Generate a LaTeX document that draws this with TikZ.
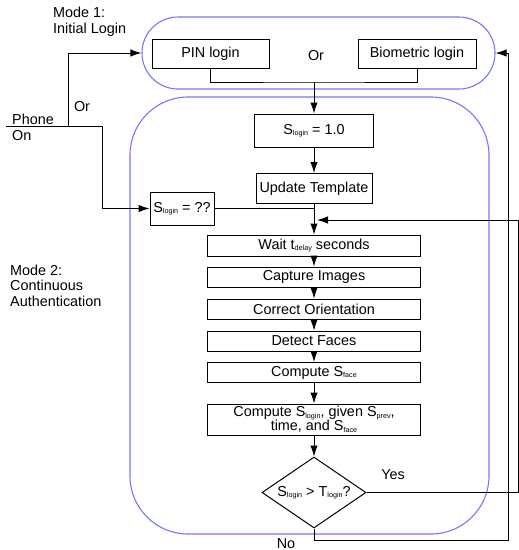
\documentclass[tikz,border=0pt]{standalone}
\usepackage{fontspec}
\setmainfont{Liberation Sans}
\usepackage{xcolor}
\usetikzlibrary{shapes,arrows.meta,calc,positioning}
\definecolor{modeblue}{RGB}{118,118,250}
\newcommand{\lsub}[1]{\raisebox{-1.2pt}{\fontsize{7.2}{7.2}\selectfont #1}}

\begin{document}
\begin{tikzpicture}[x=1pt,y=-1pt,%opacity=0.5,
  every node/.style={font=\fontsize{14.4}{16}\selectfont},
  procbox/.style = {shape=rectangle, draw, line width=1pt,
    align=center, inner sep=0pt, minimum width=#1},
  procbox/.default=213,
  decision/.style = {shape=diamond, draw, line width=1pt, inner sep=0pt,
    aspect=1.46, minimum width=104, minimum height=71},
  modebox/.style = {shape=rectangle, draw=modeblue, line width=1.1pt},
  lbl/.style = {inner sep=0pt, anchor=base},
  note/.style = {inner sep=0pt, anchor=north west, align=left},
  line/.style={draw, line width=1pt, -{Latex[length=11pt,width=7.5pt]}},
  plainline/.style={draw, line width=1pt}
  ]
  \useasboundingbox (0,0) rectangle (519,550);

  % mode 1
  \node[note] (mode1) at (53,6.5) {Mode 1:\\Initial Login};
  \node[modebox, minimum width=353, minimum height=72, rounded corners=36] (login) at (318.5,53) {};
  \node[procbox=117, minimum height=29] (pin) at (210.5,53.5) {PIN login};
  \node[procbox=118, minimum height=29] (bio) at (417,53.5) {Biometric login};
  \node[lbl] (or1) at (316,60) {Or};

  % mode 2
  \node[note, font=\fontsize{14.4}{15.5}\selectfont] (mode2) at (10,264.5) {Mode 2:\\Continuous\\Authentication};
  \node[modebox, minimum width=359, minimum height=437, rounded corners=58] (auth) at (309.5,315.5) {};
  \node[procbox=119, minimum height=33] (s1) at (314,130.5) {S\lsub{login} = 1.0};
  \node[procbox=116, minimum height=30] (upd) at (314,188.5) {Update Template};
  \node[procbox=64, minimum height=33] (sq) at (182,208.5) {S\lsub{login} = ??};
  \node[procbox, minimum height=21] (wait) at (314,245.5) {Wait t\lsub{delay} seconds};
  \node[procbox, minimum height=20] (capture) at (314,277) {Capture Images};
  \node[procbox, minimum height=20] (orient) at (314,309) {Correct Orientation};
  \node[procbox, minimum height=20] (faces) at (314,341) {Detect Faces};
  \node[procbox, minimum height=20] (sface) at (314,372.5) {Compute S\lsub{face}};
  \node[procbox, minimum height=31, font=\fontsize{14.4}{14}\selectfont] (slogin) at (314,419.5)
    {Compute S\lsub{login}, given S\lsub{prev},\\time, and S\lsub{face}};
  \node[decision] (dec) at (314,492.5) {S\lsub{login} > T\lsub{login}?};
  \node[lbl] (yes) at (393,479) {Yes};
  \node[lbl] (no) at (286,548) {No};

  % phone on
  \node[note] (phonelbl) at (12,113.5) {Phone\\On};
  \node[lbl] (or2) at (82,111) {Or};
  \coordinate (phone) at (6,126);
  \coordinate (orsplit) at (68,126);
  \coordinate (phonefork) at (102,126);
  \coordinate (orjoin) at (314,82);
  \coordinate (yesturn) at (518,220);
  \coordinate (loopin) at (317,220);
  \coordinate (noturn) at (508,540);

  \path[plainline] (phone) -- (phonefork);
  \path[line] (orsplit) |- (login.west);
  \path[line] (phonefork) |- (sq.west);
  \path[plainline] (pin.south) |- (orjoin) -| (bio.south);
  \path[line] (orjoin) -- (s1.north);
  \path[line] (s1) -- (upd);
  \path[plainline] (sq.east) -- (sq.east -| upd.south);
  \path[line] (upd) -- (wait);
  \foreach \a/\b in {wait/capture, capture/orient, orient/faces, faces/sface, sface/slogin, slogin/dec}
    \path[line] (\a) -- (\b);
  \path[line] (dec.east) -| (yesturn) -- (loopin);
  \path[line] (dec.south) |- (noturn) |- (login.east);
\end{tikzpicture}
\end{document}
